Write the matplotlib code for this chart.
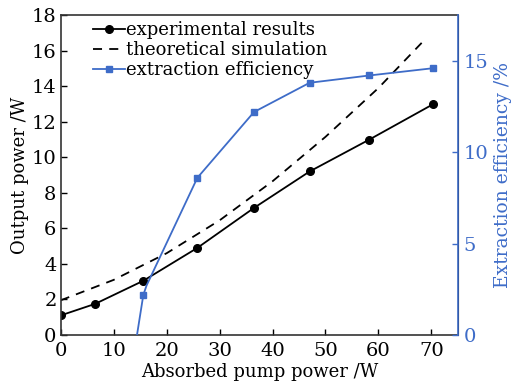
import matplotlib
matplotlib.use("Agg")
import matplotlib.pyplot as plt

plt.rcParams['font.family'] = ['DejaVu Serif']
plt.rcParams['mathtext.fontset'] = 'dejavuserif'

# Data
pump_exp = [0, 6.5, 15.6, 25.8, 36.5, 47.0, 58.3, 70.4]
out_exp = [1.1, 1.75, 3.05, 4.9, 7.15, 9.2, 11.0, 13.0]

pump_sim = [0, 10, 20, 30, 40, 50, 60, 69]
out_sim = [1.95, 3.1, 4.6, 6.45, 8.65, 11.15, 13.9, 16.7]

pump_eff = [14.4, 15.6, 16.2, 25.8, 36.5, 47.0, 58.3, 70.4]
eff = [0.0, 2.2, 2.7, 8.6, 12.2, 13.8, 14.2, 14.6]
eff_markers = [1, 3, 4, 5, 6, 7]

blue = '#3E6CC8'
fs = 13
tfs = 14

fig = plt.figure(figsize=(5.15, 3.89), dpi=100)
ax = fig.add_axes([0.118, 0.139, 0.771, 0.822])
ax2 = ax.twinx()

l1, = ax.plot(pump_exp, out_exp, '-o', color='black', lw=1.3, ms=5.5,
              label='experimental results')
l2, = ax.plot(pump_sim, out_sim, '--', color='black', lw=1.3, dashes=(5, 4),
              label='theoretical simulation')
l3, = ax2.plot(pump_eff, eff, '-s', color=blue, lw=1.3, ms=4.5,
               markevery=eff_markers, label='extraction efficiency')

ax.set_xlim(0, 75)
ax.set_ylim(0, 18)
ax2.set_ylim(0, 17.5)
ax.set_xticks(range(0, 71, 10))
ax.set_yticks(range(0, 19, 2))
ax2.set_yticks([0, 5, 10, 15])

ax.tick_params(axis='x', direction='in', labelsize=tfs, length=4, width=1, top=False, pad=5)
ax.tick_params(axis='y', direction='in', labelsize=tfs, length=4, width=1, right=False, pad=3)
ax2.tick_params(direction='in', labelsize=tfs, length=4, width=1, colors=blue, pad=4)

for s in ['left', 'bottom', 'top']:
    ax.spines[s].set_color('#333333')
    ax.spines[s].set_linewidth(1.2)
ax2.spines['right'].set_color(blue)
ax2.spines['right'].set_linewidth(1.2)
for s in ['left', 'bottom', 'top']:
    ax2.spines[s].set_visible(False)

ax.set_xlabel('Absorbed pump power /W', fontsize=fs, labelpad=2)
ax.set_ylabel('Output power /W', fontsize=fs, labelpad=2)
ax2.set_ylabel('Extraction efficiency /%', fontsize=13.5, color=blue, labelpad=4)

leg = ax.legend(handles=[l1, l2, l3], loc='upper left', bbox_to_anchor=(0.07, 0.995),
                frameon=False, fontsize=fs, handlelength=1.75, handletextpad=0.1,
                borderaxespad=0.0, labelspacing=0.1, borderpad=0.25)

fig.savefig('out.png', dpi=100)
